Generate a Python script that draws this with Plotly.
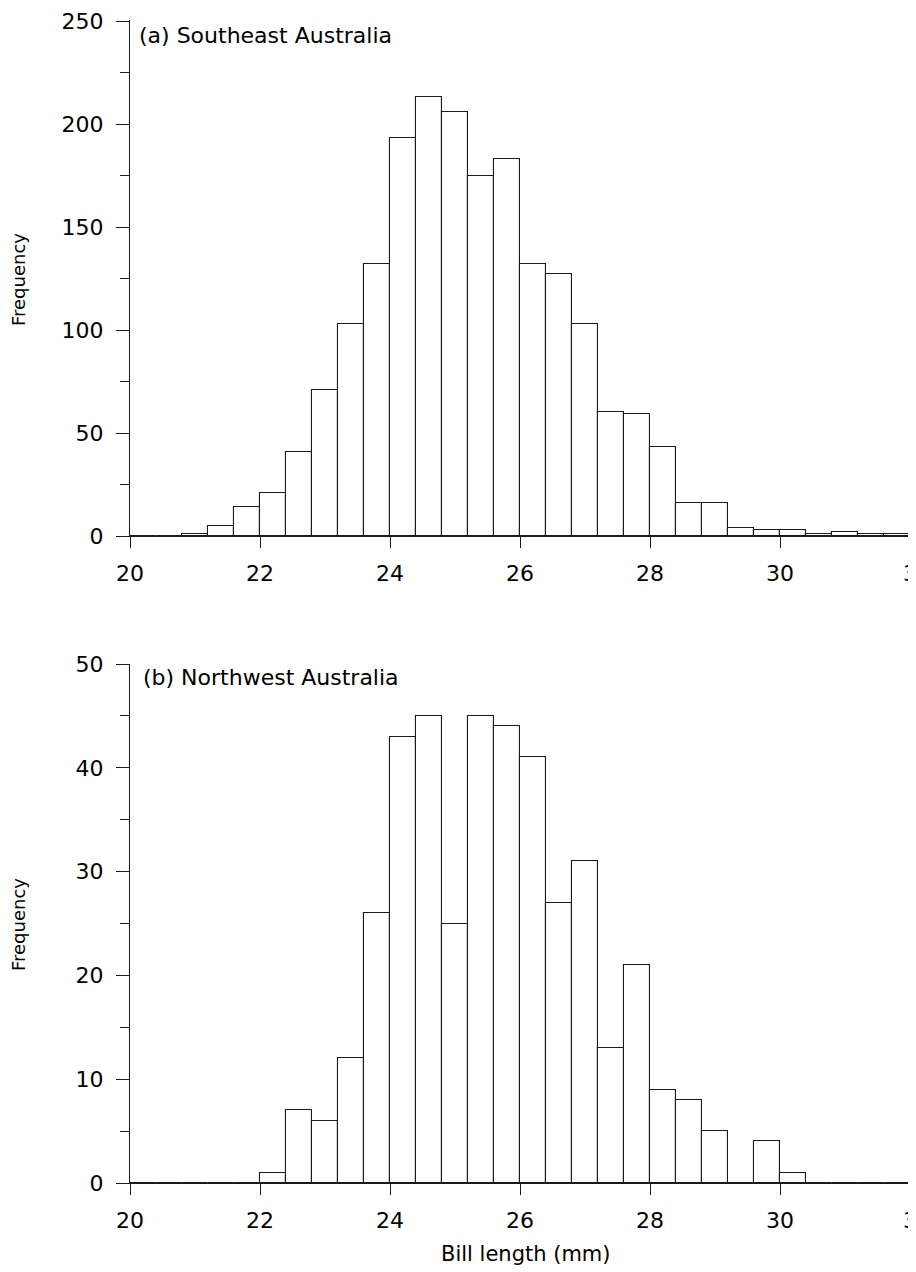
import plotly.graph_objects as go
from plotly.subplots import make_subplots

# Bin edges: 0.4 mm bins from 20.0 to 32.0
bin_left = [20.0, 20.4, 20.8, 21.2, 21.6, 22.0, 22.4, 22.8, 23.2, 23.6,
            24.0, 24.4, 24.8, 25.2, 25.6, 26.0, 26.4, 26.8, 27.2, 27.6,
            28.0, 28.4, 28.8, 29.2, 29.6, 30.0, 30.4, 30.8, 31.2, 31.6]
bin_width = 0.4

# (a) Southeast Australia frequencies
freq_se = [0, 0, 1, 5, 14, 21, 41, 71, 103, 132,
           193, 213, 206, 175, 183, 132, 127, 103, 60, 59,
           43, 16, 16, 4, 3, 3, 1, 2, 1, 1]

# (b) Northwest Australia frequencies
freq_nw = [0, 0, 0, 0, 0, 1, 7, 6, 12, 26,
           43, 45, 25, 45, 44, 41, 27, 31, 13, 21,
           9, 8, 5, 0, 4, 1, 0, 0, 0, 0]

x_ticks = [20, 22, 24, 26, 28, 30, 32]
# the last label is cropped at the right edge of the original figure
x_ticktext = ["20", "22", "24", "26", "28", "30", "3"]
y_ticks_a = [0, 50, 100, 150, 200, 250]
y_ticks_b = [0, 10, 20, 30, 40, 50]

panel_titles = ["(a) Southeast Australia", "(b) Northwest Australia"]
y_title = "Frequency"
x_title = "Bill length (mm)"

W, H = 916, 1272
OFF = 8          # page body margin offset
L = 130 - OFF


def py(page_y):
    return (H - (page_y - OFF)) / H


def px(page_x):
    return (page_x - OFF - L) / (W - L)


centers = [b + bin_width / 2 for b in bin_left]

fig = make_subplots(rows=2, cols=1)

for i, freq in enumerate([freq_se, freq_nw]):
    fig.add_trace(go.Bar(x=centers, y=freq, width=bin_width,
                         marker=dict(color="white",
                                     line=dict(color="#1a1a1a", width=1.1)),
                         showlegend=False), row=i + 1, col=1)

font = "DejaVu Sans, Liberation Sans, Arial, sans-serif"

common_x = dict(range=[20, 20 + (W - L) / 65.0], tickvals=x_ticks, ticktext=x_ticktext,
                showline=True, linecolor="#1a1a1a", linewidth=1.1,
                ticks="outside", ticklen=11, tickcolor="#1a1a1a", tickwidth=1.1,
                showgrid=False, zeroline=False, ticklabelstandoff=7,
                ticklabeloverflow="allow", automargin=False,
                tickfont=dict(family=font, size=22, color="black"))

common_y = dict(showline=True, linecolor="#1a1a1a", linewidth=1.1,
                ticks="outside", ticklen=13, tickcolor="#1a1a1a", tickwidth=1.1,
                showgrid=False, zeroline=False, ticklabelstandoff=8,
                ticklabeloverflow="allow", automargin=False,
                tickfont=dict(family=font, size=22, color="black"))

# panel (a): 0 at page y 536, 250 at ~page y 22 (keeps label inside the page)
fig.update_layout(
    xaxis=dict(domain=[0, 1], anchor="y", **common_x),
    xaxis2=dict(domain=[0, 1], anchor="y2", **common_x),
    yaxis=dict(domain=[py(536), py(20)], range=[0, 250.5], anchor="x",
               tickvals=y_ticks_a,
               minor=dict(dtick=25, ticks="outside", ticklen=9, tickcolor="#1a1a1a"),
               **common_y),
    yaxis2=dict(domain=[py(1183), py(664)], range=[0, 50], anchor="x2",
                tickvals=y_ticks_b,
                minor=dict(dtick=5, ticks="outside", ticklen=9, tickcolor="#1a1a1a"),
                **common_y),
    width=W, height=H,
    margin=dict(l=L, r=0, t=0, b=0, pad=0, autoexpand=False),
    paper_bgcolor="white", plot_bgcolor="white",
    bargap=0,
)

fig.add_annotation(text=panel_titles[0], xref="paper", yref="paper",
                   x=px(137), y=py(36), xanchor="left", yanchor="middle",
                   showarrow=False, font=dict(family=font, size=22, color="black"))
fig.add_annotation(text=panel_titles[1], xref="paper", yref="paper",
                   x=px(141), y=py(678), xanchor="left", yanchor="middle",
                   showarrow=False, font=dict(family=font, size=22, color="black"))

for yc in [280, 925]:
    fig.add_annotation(text=y_title, xref="paper", yref="paper",
                       x=px(19), y=py(yc), xanchor="center", yanchor="middle",
                       textangle=-90, showarrow=False,
                       font=dict(family=font, size=18, color="black"))

fig.add_annotation(text=x_title, xref="paper", yref="paper",
                   x=px(526), y=py(1254), xanchor="center", yanchor="middle",
                   showarrow=False, font=dict(family=font, size=21, color="black"))

fig.write_html("out.html")
